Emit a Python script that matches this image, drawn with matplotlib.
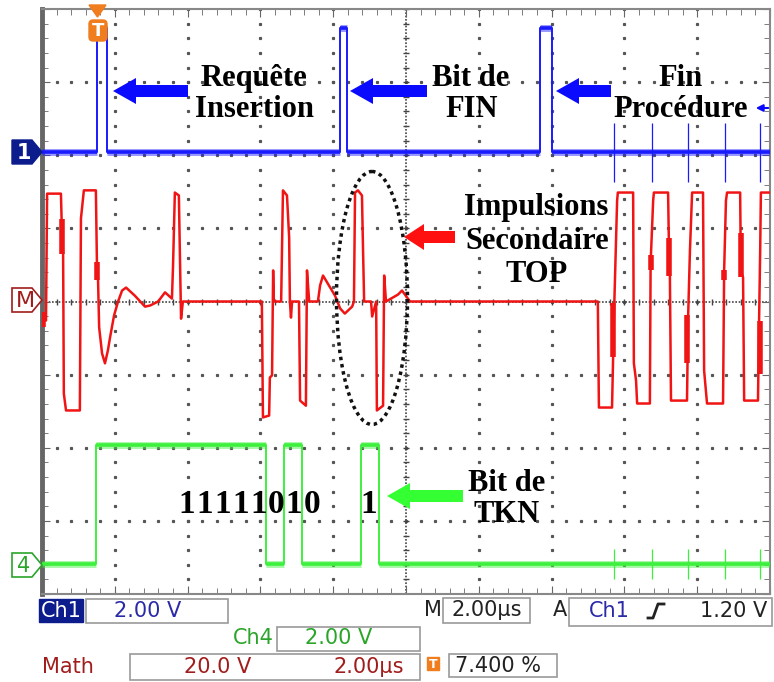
import numpy as np
import matplotlib.pyplot as plt
from matplotlib.patches import Polygon, Ellipse, Rectangle, FancyBboxPatch

# ---- data read from the scope capture (time in us, voltages in V) ----
# 2 us/div, 10 divisions
t_end = 20.0

# Ch1 : 2 V/div, marker at +2.04 div
ch1_rise = [1.51, 8.19, 13.68]
ch1_fall = [1.79, 8.38, 14.01]
ch1_high = 3.4
ch1_offset = 2.04
spike_t = [15.71, 16.76, 17.75, 18.76, 19.73]
ch1_spike = 0.8

# Ch4 : 2 V/div, marker at -3.59 div
ch4_rise = [1.48, 6.65, 8.76]
ch4_fall = [6.15, 7.14, 9.26]
ch4_high = 3.25
ch4_offset = -3.59
ch4_spike = 0.4

# Math : 20 V/div, marker at 0
math_t = [0.00, 0.11, 0.14, 0.52, 0.55, 0.58, 0.60, 0.66, 1.04, 1.07, 1.15, 1.48,
          1.51, 1.54, 1.57, 1.65, 1.73, 1.81, 1.87, 1.98, 2.09, 2.20, 2.31, 2.55,
          2.83, 2.97, 3.19, 3.38, 3.57, 3.60, 3.65, 3.76, 3.82, 3.87, 6.04, 6.07,
          6.24, 6.26, 6.32, 6.35, 6.37, 6.57, 6.62, 6.73, 6.79, 6.81, 6.84, 6.87,
          7.06, 7.09, 7.25, 7.28, 7.34, 7.58, 7.64, 7.72, 8.05, 8.19, 8.32, 8.52,
          8.57, 8.60, 8.68, 8.79, 8.82, 8.85, 9.04, 9.07, 9.18, 9.20, 9.37, 9.40,
          9.45, 9.78, 9.89, 10.11, 15.27, 15.30, 15.66, 15.69, 15.71, 15.80, 15.82,
          16.24, 16.26, 16.32, 16.35, 16.70, 16.72, 16.79, 16.81, 17.20, 17.23,
          17.25, 17.28, 17.72, 17.75, 17.80, 17.86, 18.16, 18.19, 18.27, 18.71,
          18.74, 18.79, 18.82, 19.18, 19.20, 19.26, 19.29, 19.67, 19.70, 19.73,
          19.75, 20.00]
math_v = [-5.2, -5.2, 29.5, 29.5, 18.1, 13.1, -25.2, -29.8, -29.8, 22.7, 30.4, 30.4,
          9.8, 5.8, -7.1, -14.2, -16.9, -13.4, -9.8, -3.8, 0.0, 3.0, 3.8, 1.6,
          -1.4, -1.1, 0.0, 2.5, 0.8, 9.8, 29.8, 29.0, -4.7, 0.0, 0.0, -31.7,
          -31.2, -20.8, -20.2, 8.5, 0.0, 0.0, 30.4, 29.0, 17.5, 0.0, -4.4, 0.0,
          0.0, -27.1, -28.5, 8.5, 0.0, 0.0, 4.4, 7.1, 1.6, -1.9, -3.3, -1.4,
          0.0, 29.8, 30.4, 29.0, 14.0, 0.0, 0.0, -4.1, 0.0, -29.8, -28.5, 7.1,
          0.0, 1.9, 3.0, 0.0, 0.0, -29.0, -29.0, -15.3, -5.2, 27.6, 29.8,
          29.8, -16.9, -21.6, -27.9, -27.9, 10.4, 27.6, 29.8, 29.8, 11.2,
          7.1, -27.1, -27.1, -4.4, 13.7, 29.8, 29.8, -18.9, -27.9, -27.9,
          8.5, 27.6, 29.8, 29.8, 8.5, 6.6, -27.1, -27.1, -5.2, 13.7,
          29.8, 29.8]
# thick (ringing) parts of the math transitions
burst_t = [0.03, 0.55, 1.51, 15.69, 16.73, 17.23, 17.72, 18.74, 19.20, 19.73]
burst_lo = [-7.0, 13.1, 5.8, -15.3, 8.5, 7.1, -16.7, 5.8, 6.6, -19.7]
burst_hi = [-3.0, 22.7, 10.7, -0.3, 12.6, 17.5, -3.8, 8.5, 18.6, -5.2]

token_bits = '11111010'

BLUE = '#1a1aff'
RED = '#f01414'
GREEN = '#3ef03e'


def steps(rise, fall, high):
    t, v = [0.0], [0.0]
    for r, f in zip(rise, fall):
        t += [r, r, f, f]
        v += [0.0, high, high, 0.0]
    t.append(t_end)
    v.append(0.0)
    return np.array(t), np.array(v)


def draw_step_trace(ax, rise, fall, high, offset, spike, color):
    t, v = steps(rise, fall, high)
    y = offset + v / 2.0
    # fuzzy noise band on the flat parts
    for i in range(len(t) - 1):
        if v[i] == v[i + 1]:
            ax.plot([t[i], t[i + 1]], [y[i], y[i]], color=color, lw=5, alpha=0.45,
                    solid_capstyle='butt', zorder=3)
            ax.plot([t[i], t[i + 1]], [y[i], y[i]], color=color, lw=2.6,
                    solid_capstyle='butt', zorder=3)
    ax.plot(t, y, color=color, lw=1.4, zorder=3)
    ax.vlines(spike_t, offset - spike / 2.0, offset + spike / 2.0, color=color,
              lw=0.9, zorder=3)


fig = plt.figure(figsize=(7.74, 6.82), dpi=100)
W, H = 774, 682
ax = fig.add_axes([42 / W, (H - 594) / H, 728 / W, 585 / H])
ax.set_xlim(0, t_end)
ax.set_ylim(-4, 4)

# graticule
for gx in np.arange(2, 20, 2):
    if gx != 10:
        ys = np.arange(-4, 4.01, 0.2)
        ax.plot(np.full_like(ys, gx), ys, ls='none', marker='s', ms=1.3,
                color='#555555', zorder=1)
for gy in range(-3, 4):
    if gy != 0:
        xs = np.arange(0, 20.01, 0.4)
        ax.plot(xs, np.full_like(xs, gy), ls='none', marker='s', ms=1.3,
                color='#555555', zorder=1)
ax.axvline(10, ls=(0, (1, 1)), lw=1.2, color='#444444', zorder=1)
ax.axhline(0, ls=(0, (1, 1)), lw=1.2, color='#444444', zorder=1)
cx = np.arange(0, 20.01, 0.4)
ax.plot(cx, np.zeros_like(cx), ls='none', marker='|', ms=5, mew=1, color='#444444', zorder=1)
cy = np.arange(-4, 4.01, 0.2)
ax.plot(np.full_like(cy, 10), cy, ls='none', marker='_', ms=5, mew=1, color='#444444', zorder=1)

ax.set_xticks(np.arange(0, 20.01, 2))
ax.set_xticks(np.arange(0, 20.01, 0.4), minor=True)
ax.set_yticks(np.arange(-4, 4.01, 1))
ax.set_yticks(np.arange(-4, 4.01, 0.2), minor=True)
ax.tick_params(which='both', direction='in', top=True, right=True,
               labelbottom=False, labelleft=False, color='#666666')
ax.tick_params(which='major', length=6)
ax.tick_params(which='minor', length=4)
for s in ['top', 'right', 'bottom']:
    ax.spines[s].set_color('#888888')
    ax.spines[s].set_linewidth(1.5)
ax.spines['left'].set_color('#666666')
ax.spines['left'].set_linewidth(3.5)

# traces
draw_step_trace(ax, ch1_rise, ch1_fall, ch1_high, ch1_offset, ch1_spike, BLUE)
draw_step_trace(ax, ch4_rise, ch4_fall, ch4_high, ch4_offset, ch4_spike, GREEN)
ax.plot(math_t, np.array(math_v) / 20.0, color=RED, lw=1.8, zorder=3)
ax.vlines(burst_t, np.array(burst_lo) / 20.0, np.array(burst_hi) / 20.0,
          color=RED, lw=4, zorder=3)

# overlay in pixel coordinates for annotations and the scope read-out
ov = fig.add_axes([0, 0, 1, 1], zorder=5)
ov.set_xlim(0, W)
ov.set_ylim(H, 0)
ov.axis('off')
ov.patch.set_visible(False)


def block_arrow(tip, y, tail, color, head_len=23, head_h=26, shaft=12):
    pts = [(tip, y), (tip + head_len, y - head_h / 2), (tip + head_len, y - shaft / 2),
           (tail, y - shaft / 2), (tail, y + shaft / 2), (tip + head_len, y + shaft / 2),
           (tip + head_len, y + head_h / 2)]
    ov.add_patch(Polygon(pts, closed=True, color=color, lw=0))


block_arrow(113, 91, 188, '#0a0aff')
block_arrow(350, 91, 427, '#0a0aff')
block_arrow(556, 91, 611, '#0a0aff')
block_arrow(404, 237, 455, '#ff1010', head_len=20)
block_arrow(387, 496, 463, '#33ff33')
ov.annotate('', xy=(753, 108), xytext=(771, 108),
            arrowprops=dict(arrowstyle='-|>', color='#0a0aff', lw=1.5, mutation_scale=10))

serif = dict(family='Liberation Serif', weight='bold', fontsize=22, ha='center',
             va='baseline', color='black')
ov.text(254, 86, 'Requête', **serif)
ov.text(254, 117, 'Insertion', **serif)
ov.text(471, 86, 'Bit de', **serif)
ov.text(472, 117, 'FIN', **serif)
ov.text(681, 86, 'Fin', **serif)
ov.text(681, 117, 'Procédure', **serif)
ov.text(536, 215, 'Impulsions', **serif)
ov.text(537, 249, 'Secondaire', **serif)
ov.text(537, 282, 'TOP', **serif)
for i, b in enumerate(token_bits):
    ov.text(187 + 17.8 * i, 513, b, **dict(serif, fontsize=24))
ov.text(369, 513, '1', **dict(serif, fontsize=24))
ov.text(507, 491, 'Bit de', **serif)
ov.text(507, 522, 'TKN', **serif)

ov.add_patch(Ellipse((372, 298), 71, 253, fill=False, ec='#111111', lw=2.5,
                     ls=(0, (1, 1.1))))

# channel markers on the left
ov.add_patch(Polygon([(12, 140), (32, 140), (42, 152), (32, 164), (12, 164)],
                     closed=True, fc='#0c1c8c', ec='#0c1c8c'))
ov.text(24, 153, '1', color='white', fontsize=15, fontweight='bold', ha='center', va='center')
ov.add_patch(Polygon([(12, 288), (32, 288), (42, 300), (32, 312), (12, 312)],
                     closed=True, fc='white', ec='#a11d1d', lw=1.2))
ov.text(25, 301, 'M', color='#a11d1d', fontsize=16, ha='center', va='center')
ov.add_patch(Polygon([(12, 553), (32, 553), (42, 565), (32, 577), (12, 577)],
                     closed=True, fc='white', ec='#2aa52a', lw=1.2))
ov.text(24, 566, '4', color='#2aa52a', fontsize=15, ha='center', va='center')

# trigger marker
ov.add_patch(Polygon([(89, 5), (106, 5), (97.5, 17)], closed=True, color='#f07d1e'))
ov.add_patch(FancyBboxPatch((89, 20), 18, 21, boxstyle='round,pad=0,rounding_size=4',
                            fc='#f07d1e', ec='#f07d1e'))
ov.text(98, 31, 'T', color='white', fontsize=13, fontweight='bold', ha='center', va='center')

# read-out panel
sans = dict(family='DejaVu Sans', fontsize=15, ha='center', va='center')


def box(x0, y0, x1, y1):
    ov.add_patch(Rectangle((x0, y0), x1 - x0, y1 - y0, fc='white', ec='#999999', lw=1.2))


ov.add_patch(Rectangle((39, 599), 44, 23, fc='#0c1c8c', ec='#0c1c8c'))
ov.text(61, 611, 'Ch1', color='white', **sans)
box(86, 599, 228, 623)
ov.text(148, 611, '2.00 V', color='#2a2aa8', **sans)
ov.text(433, 610, 'M', color='#222222', **sans)
box(443, 598, 530, 623)
ov.text(487, 610, '2.00µs', color='#222222', **sans)
ov.text(560, 610, 'A', color='#222222', **sans)
box(569, 598, 772, 626)
ov.text(609, 611, 'Ch1', color='#2a2aa8', **sans)
ov.plot([648, 653, 658, 664], [618, 618, 604, 604], color='#222222', lw=2)
ov.text(734, 611, '1.20 V', color='#222222', **sans)

ov.text(253, 638, 'Ch4', color='#2aa52a', **sans)
box(277, 627, 420, 651)
ov.text(339, 638, '2.00 V', color='#2aa52a', **sans)

ov.text(68, 667, 'Math', color='#a11d1d', **sans)
box(130, 654, 420, 680)
ov.text(218, 667, '20.0 V', color='#a11d1d', **sans)
ov.text(369, 667, '2.00µs', color='#a11d1d', **sans)
ov.add_patch(Rectangle((427, 657), 12, 13, fc='#f07d1e', ec='#f07d1e'))
ov.text(433, 664, 'T', color='white', fontsize=9, fontweight='bold', ha='center', va='center')
box(449, 654, 557, 677)
ov.text(498, 666, '7.400 %', color='#222222', **sans)

plt.savefig('out.png', dpi=100)
